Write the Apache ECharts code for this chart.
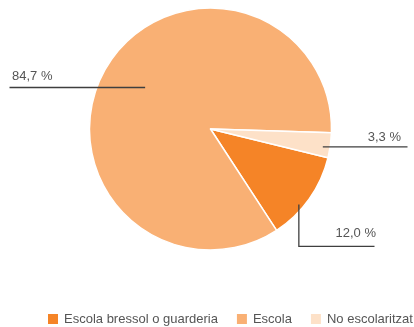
<!DOCTYPE html>
<html>
<head>
<meta charset="utf-8">
<script src="https://cdn.jsdelivr.net/npm/echarts@6/dist/echarts.min.js"></script>
<style>
  html, body { margin: 0; padding: 0; background: #fff; }
  #chart { width: 414px; height: 327px; }
</style>
</head>
<body>
<div id="chart"></div>
<script>
// Escolarització: share of children by type of schooling
const categories = ['Escola bressol o guarderia', 'Escola', 'No escolaritzat'];
const shares = [12.0, 84.7, 3.3];
const colors = ['#F58427', '#F9B074', '#FDE1C8'];

const START_ANGLE = -13.7;   // degrees, counter-clockwise from 3 o'clock
const CENTER = [210.5, 129];
const RADIUS = 121;
const FONT = 'Liberation Sans, Arial, Helvetica, sans-serif';

// Where each leader line starts inside its slice (fraction along arc, fraction of radius)
// and how it runs to its label.
const leader = [
  { t: 0.62, k: 0.96, route: 'down-right', drop: 42, toX: 374.5 },
  { t: 0.51, k: 0.64, route: 'left', toX: 9.5 },
  { t: 0.61, k: 0.94, route: 'right', toX: 407.5 }
];

const total = shares.reduce((a, b) => a + b, 0);

// Point inside slice i where its leader line begins
function anchorPoint(i) {
  let before = 0;
  for (let j = 0; j < i; j++) before += shares[j];
  const startDeg = -START_ANGLE + before / total * 360;
  const spanDeg = shares[i] / total * 360;
  const a = (startDeg + leader[i].t * spanDeg) * Math.PI / 180;
  const r = RADIUS * leader[i].k;
  return [CENTER[0] + r * Math.cos(a), CENTER[1] + r * Math.sin(a)];
}

const fmt = v => v.toFixed(1).replace('.', ',') + ' %';
const pieData = categories.map((name, i) => ({ name, value: shares[i] }));

const chart = echarts.init(document.getElementById('chart'), null, { renderer: 'canvas' });

chart.setOption({
  animation: false,
  color: colors,
  textStyle: { fontFamily: FONT },
  legend: {
    left: 46,
    top: 312,
    width: 600,
    padding: 0,
    itemWidth: 12,
    itemHeight: 12,
    itemGap: 17,
    icon: 'rect',
    textStyle: { fontSize: 13, color: '#555' },
    data: categories
  },
  series: [
    {
      // the slices
      type: 'pie',
      center: CENTER,
      radius: RADIUS,
      startAngle: START_ANGLE,
      clockwise: true,
      emphasis: { disabled: true },
      itemStyle: { borderColor: '#fff', borderWidth: 1.5 },
      label: { show: false },
      labelLine: { show: false },
      data: pieData
    },
    {
      // same layout, see-through, carrying the value labels and leader lines on top
      type: 'pie',
      z: 5,
      center: CENTER,
      radius: RADIUS,
      startAngle: START_ANGLE,
      clockwise: true,
      silent: true,
      emphasis: { disabled: true },
      itemStyle: { color: 'rgba(0,0,0,0)', borderWidth: 0 },
      label: {
        show: true,
        position: 'outside',
        overflow: 'none',
        formatter: p => fmt(p.value),
        fontSize: 13,
        color: '#555',
        fontFamily: FONT
      },
      labelLine: {
        show: true,
        lineStyle: { color: '#3f3f3f', width: 1.3 }
      },
      labelLayout: function (params) {
        const i = params.dataIndex;
        const A = anchorPoint(i);
        const L = leader[i];
        if (L.route === 'left') {
          return {
            x: L.toX + 2.5, y: A[1] - 11, align: 'left', verticalAlign: 'middle',
            labelLinePoints: [A, [A[0] - 1, A[1]], [L.toX, A[1]]]
          };
        }
        if (L.route === 'right') {
          return {
            x: L.toX - 6.5, y: A[1] - 10, align: 'right', verticalAlign: 'middle',
            labelLinePoints: [A, [A[0] + 1, A[1]], [L.toX, A[1]]]
          };
        }
        const yB = A[1] + L.drop;
        return {
          x: L.toX + 1.5, y: yB - 13, align: 'right', verticalAlign: 'middle',
          labelLinePoints: [A, [A[0], yB], [L.toX, yB]]
        };
      },
      data: pieData
    }
  ]
});
</script>
</body>
</html>
